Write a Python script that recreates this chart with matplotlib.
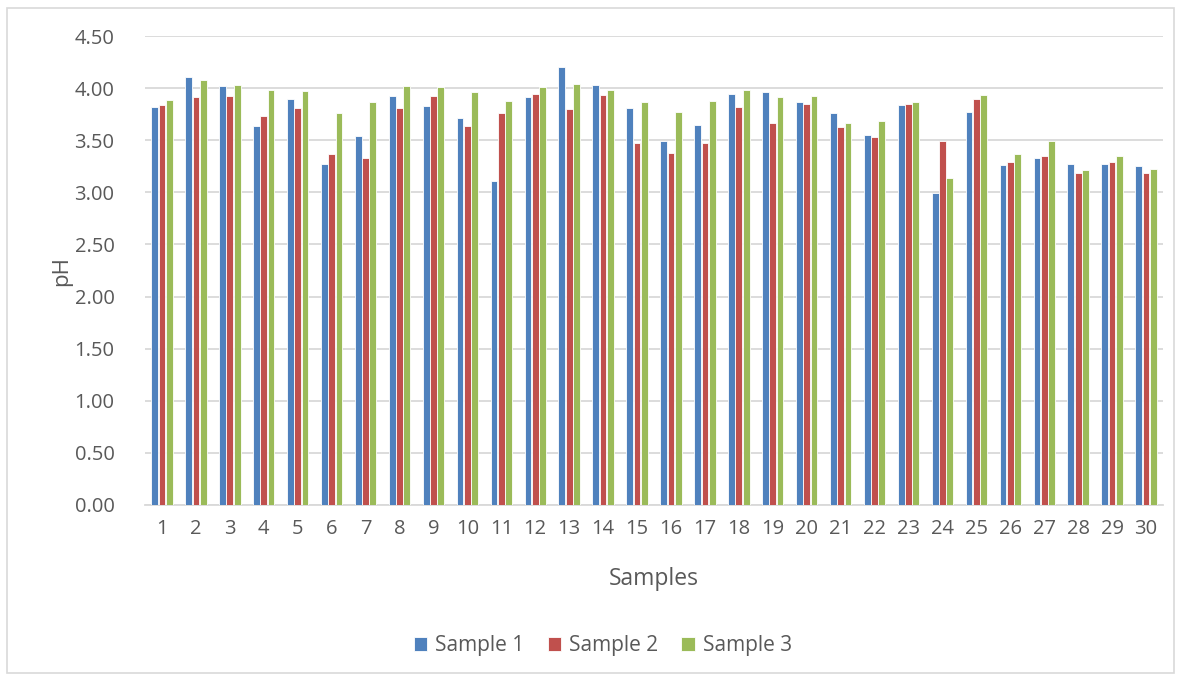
import numpy as np
import matplotlib.pyplot as plt
from matplotlib.patches import Rectangle

# pH readings per sample point, three replicates
samples = [str(i) for i in range(1, 31)]
sample1 = [3.82, 4.11, 4.02, 3.64, 3.90, 3.27, 3.54, 3.92, 3.83, 3.71,
           3.11, 3.91, 4.20, 4.03, 3.81, 3.49, 3.65, 3.94, 3.96, 3.87,
           3.76, 3.55, 3.84, 2.99, 3.77, 3.26, 3.33, 3.27, 3.27, 3.25]
sample2 = [3.84, 3.91, 3.92, 3.73, 3.81, 3.37, 3.33, 3.81, 3.92, 3.64,
           3.76, 3.94, 3.80, 3.93, 3.47, 3.38, 3.47, 3.82, 3.67, 3.85,
           3.63, 3.53, 3.85, 3.49, 3.90, 3.29, 3.35, 3.19, 3.29, 3.19]
sample3 = [3.89, 4.08, 4.03, 3.98, 3.97, 3.76, 3.87, 4.02, 4.01, 3.96,
           3.88, 4.01, 4.04, 3.98, 3.87, 3.77, 3.88, 3.98, 3.91, 3.92,
           3.67, 3.68, 3.87, 3.14, 3.93, 3.37, 3.49, 3.21, 3.35, 3.22]
yticks = [0, 0.5, 1.0, 1.5, 2.0, 2.5, 3.0, 3.5, 4.0, 4.5]

plt.rcParams['font.family'] = ['Open Sans', 'DejaVu Sans']
txt = '#595959'

fig = plt.figure(figsize=(11.82, 6.81), dpi=100)
fig.patches.append(Rectangle((7 / 1182, 8 / 681), 1167 / 1182, 665 / 681,
                             transform=fig.transFigure, fill=False,
                             edgecolor='#D9D9D9', linewidth=1.2))
ax = fig.add_axes([145 / 1182, 1 - 505 / 681, 1018 / 1182, 469 / 681])

x = np.arange(len(samples))
w = 0.2
off = 0.215
ax.bar(x - off, sample1, w, color='#4F81BD', edgecolor='white', linewidth=0.6, label='Sample 1', zorder=3)
ax.bar(x, sample2, w, color='#C0504D', edgecolor='white', linewidth=0.6, label='Sample 2', zorder=3)
ax.bar(x + off, sample3, w, color='#9BBB59', edgecolor='white', linewidth=0.6, label='Sample 3', zorder=3)

ax.set_xlim(-0.5, len(samples) - 0.5)
ax.set_ylim(0, 4.5)
ax.set_yticks(yticks)
ax.set_yticklabels(['%.2f' % v for v in yticks])
ax.set_xticks(x)
ax.set_xticklabels(samples)
ax.grid(axis='y', color='#D9D9D9', linewidth=1.3, zorder=0)
for s in ['top', 'right', 'left']:
    ax.spines[s].set_visible(False)
ax.spines['bottom'].set_color('#D9D9D9')
ax.spines['bottom'].set_linewidth(1.3)
ax.tick_params(length=0, labelsize=14.5, colors=txt)
ax.tick_params(axis='y', pad=22)
ax.tick_params(axis='x', pad=10)

ax.set_ylabel('pH', fontsize=16, color=txt, labelpad=2)
ax.set_xlabel('Samples', fontsize=16.5, color=txt, labelpad=20)

fig.legend(loc='center', bbox_to_anchor=(603 / 1182, 1 - 646 / 681), ncol=3,
           frameon=False, fontsize=15, labelcolor=txt, handlelength=0.65,
           handleheight=0.65, handletextpad=0.4, columnspacing=1.1)

fig.savefig('out.png', dpi=100)
